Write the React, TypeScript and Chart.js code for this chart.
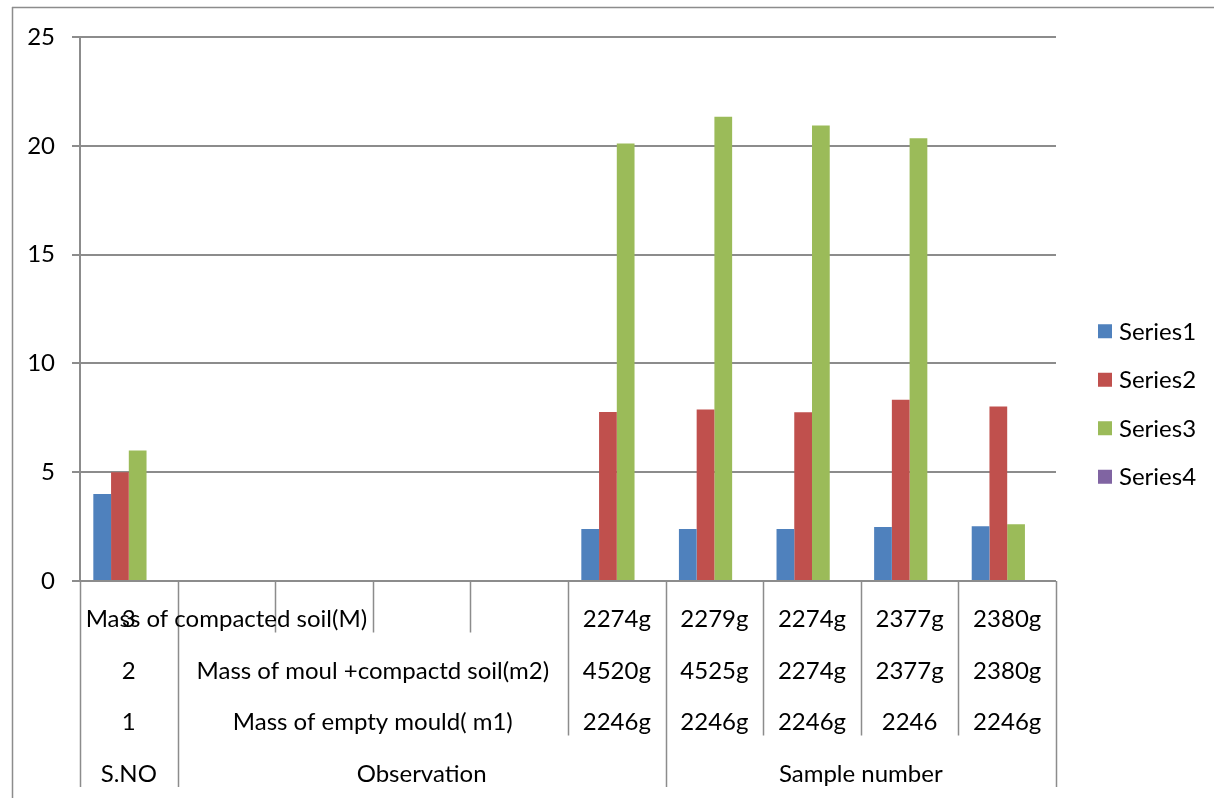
import React, { useEffect, useRef } from "react";
import { Chart, registerables } from "chart.js";

Chart.register(...registerables);

// ---- data ----
const categories = ["1", "2", "3", "4", "5", "6", "7", "8", "9", "10"];
const series1 = [4, null, null, null, null, 2.39, 2.39, 2.39, 2.48, 2.52];
const series2 = [5, null, null, null, null, 7.77, 7.88, 7.76, 8.33, 8.02];
const series3 = [6, null, null, null, null, 20.1, 21.33, 20.93, 20.35, 2.61];
const series4 = [null, null, null, null, null, null, null, null, null, null];
const seriesNames = ["Series1", "Series2", "Series3", "Series4"];
const seriesColors = ["#4F81BD", "#C0504D", "#9BBB59", "#8064A2"];
const yMin = 0;
const yMax = 25;
const yStep = 5;

// multi-level category table (top row first)
const serialNumbers = ["3", "2", "1", "S.NO"];
const observations = [
  "Mass of compacted soil(M)",
  "Mass of moul +compactd soil(m2)",
  "Mass of empty mould( m1)",
  "Observation",
];
const massCompacted = ["2274g", "2279g", "2274g", "2377g", "2380g"];
const massMouldSoil = ["4520g", "4525g", "2274g", "2377g", "2380g"];
const massEmptyMould = ["2246g", "2246g", "2246g", "2246", "2246g"];
const sampleHeader = "Sample number";

const FONT = "Lato, 'Open Sans', 'Liberation Sans', sans-serif";
const GRID = "#8c8c8c";

const borderPlugin = {
  id: "outerBorder",
  beforeDraw(chart: any) {
    const { ctx, width, height } = chart;
    ctx.save();
    ctx.fillStyle = "#fff";
    ctx.fillRect(0, 0, width, height);
    ctx.strokeStyle = GRID;
    ctx.lineWidth = 1.5;
    ctx.beginPath();
    ctx.moveTo(12, 7.5);
    ctx.lineTo(width, 7.5);
    ctx.moveTo(12.5, 7);
    ctx.lineTo(12.5, height);
    ctx.stroke();
    ctx.restore();
  },
};

const tablePlugin = {
  id: "categoryTable",
  afterDraw(chart: any) {
    const { ctx, chartArea } = chart;
    const xs = chart.scales.x;
    const n = categories.length;
    const left = chartArea.left;
    const cw = (chartArea.right - chartArea.left) / n;
    const bx = (b: number) => left + b * cw;
    const rowH = 51.5;
    const top = chartArea.bottom;
    const rowTop = (r: number) => top + r * rowH;

    ctx.save();
    ctx.strokeStyle = GRID;
    ctx.lineWidth = 1.5;
    // [boundary index, number of rows spanned]
    const spans: [number, number][] = [
      [0, 4], [1, 4], [2, 1], [3, 1], [4, 1], [5, 3], [6, 4], [7, 3], [8, 3], [9, 3], [10, 4],
    ];
    ctx.beginPath();
    spans.forEach(([b, rows]) => {
      const x = Math.round(bx(b)) + 0.5;
      ctx.moveTo(x, top);
      ctx.lineTo(x, rowTop(rows));
    });
    ctx.stroke();

    ctx.fillStyle = "#000";
    ctx.font = `24px ${FONT}`;
    ctx.textAlign = "center";
    ctx.textBaseline = "alphabetic";
    const base = (r: number) => rowTop(r) + 46;
    const cx = (i: number) => xs.getPixelForValue(i);

    // S.NO column
    serialNumbers.forEach((s, r) => ctx.fillText(s, cx(0), base(r)));
    // observation column
    ctx.fillText(observations[0], cx(1), base(0));
    ctx.fillText(observations[1], (bx(1) + bx(5)) / 2, base(1));
    ctx.fillText(observations[2], (bx(1) + bx(5)) / 2, base(2));
    ctx.fillText(observations[3], (bx(1) + bx(6)) / 2, base(3));
    // samples
    const rowsVals = [massCompacted, massMouldSoil, massEmptyMould];
    rowsVals.forEach((vals, r) => {
      vals.forEach((v, i) => ctx.fillText(v, cx(5 + i), base(r)));
    });
    ctx.fillText(sampleHeader, (bx(6) + bx(10)) / 2, base(3));
    ctx.restore();
  },
};

const legendPlugin = {
  id: "sideLegend",
  afterDraw(chart: any) {
    const { ctx, chartArea, height } = chart;
    const ds = chart.data.datasets;
    const spacing = 48.5;
    const cy0 = height / 2 + 5 - ((ds.length - 1) * spacing) / 2;
    const x0 = chartArea.right + 42;
    ctx.save();
    ctx.font = `24px ${FONT}`;
    ctx.textAlign = "left";
    ctx.textBaseline = "middle";
    ds.forEach((d: any, i: number) => {
      const cy = cy0 + i * spacing;
      ctx.fillStyle = d.backgroundColor;
      ctx.fillRect(x0, cy - 7, 14, 14);
      ctx.fillStyle = "#000";
      ctx.fillText(d.label, x0 + 21, cy + 1);
    });
    ctx.restore();
  },
};

export default function App() {
  const ref = useRef<HTMLCanvasElement | null>(null);

  useEffect(() => {
    if (!ref.current) return;
    const datasets = [series1, series2, series3, series4].map((data, i) => ({
      label: seriesNames[i],
      data,
      backgroundColor: seriesColors[i],
      borderWidth: 0,
      categoryPercentage: 0.727,
      barPercentage: 1.0,
    }));
    const chart = new Chart(ref.current, {
      type: "bar",
      data: { labels: categories, datasets },
      options: {
        responsive: false,
        animation: false,
        devicePixelRatio: 1,
        layout: { padding: { left: 0, right: 158, top: 37, bottom: 0 } },
        plugins: {
          legend: { display: false },
          tooltip: { enabled: false },
        },
        scales: {
          x: {
            ticks: { display: false },
            grid: { display: false },
            border: { display: false },
            afterFit: (s: any) => {
              s.height = 217;
            },
          },
          y: {
            min: yMin,
            max: yMax,
            ticks: {
              stepSize: yStep,
              color: "#000",
              padding: 17,
              font: { family: FONT, size: 24 },
            },
            grid: { color: GRID, lineWidth: 2, tickLength: 8, drawTicks: true },
            border: { display: true, color: GRID, width: 2 },
            afterFit: (s: any) => {
              s.width = 80;
            },
          },
        },
      },
      plugins: [borderPlugin, tablePlugin, legendPlugin],
    });
    return () => chart.destroy();
  }, []);

  return (
    <div style={{ position: "absolute", left: 0, top: 0, width: 1214, height: 798 }}>
      <canvas ref={ref} width={1214} height={798} />
    </div>
  );
}
